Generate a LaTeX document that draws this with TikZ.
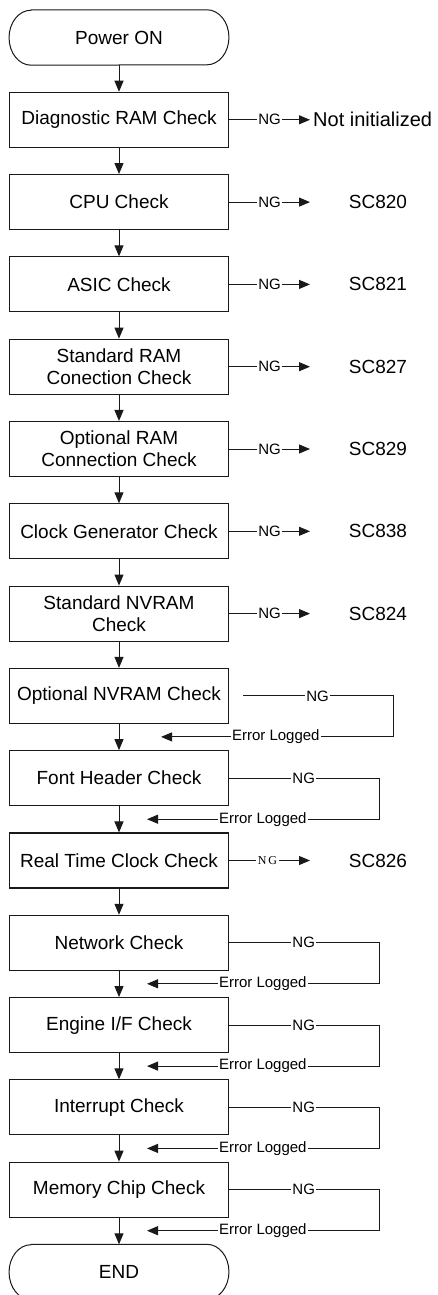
\documentclass[tikz,border=0pt]{standalone}
\usepackage{fontspec}
\setmainfont{Liberation Sans}
\newfontfamily\ngserif{Liberation Serif}
\usetikzlibrary{arrows.meta}
\begin{document}
\begin{tikzpicture}[x=1pt,y=-1pt,
  every node/.style={font=\fontsize{19}{22}\selectfont, text=black},
  box/.style={draw=black!90, line width=1.1pt, minimum width=219.5pt, minimum height=55pt, align=center, inner sep=0pt},
  term/.style={minimum width=219.5pt, minimum height=55pt, inner sep=0pt},
  lbl/.style={font=\fontsize{15}{15}\selectfont, inner sep=1pt},
  serlbl/.style={font=\ngserif\fontsize{12}{12}\selectfont, inner sep=1.5pt},
  ln/.style={draw=black!90, line width=1pt},
  arr/.style={ln, -{Triangle[length=11pt,width=9pt]}},
  termline/.style={draw=black!90, line width=1pt}
]
\useasboundingbox (0,0) rectangle (438,1295);

% main column
\node[term] (pwr)  at (119,37.5)  {Power ON};
\node[box]  (diag) at (119,119.8) {Diagnostic RAM Check};
\node[box]  (cpu)  at (119,202.1) {CPU Check};
\node[box]  (asic) at (119,284.4) {ASIC Check};
\node[box]  (sram) at (119,366.7) {Standard RAM\\Conection Check};
\node[box]  (oram) at (119,449.0) {Optional RAM\\Connection Check};
\node[box]  (clk)  at (119,531.3) {Clock Generator Check};
\node[box]  (snv)  at (119,613.6) {Standard NVRAM\\Check};
\node[box]  (onv)  at (119,695.9) {Optional NVRAM Check};
\node[box]  (font) at (119,778.2) {Font Header Check};
\node[box]  (rtc)  at (119,860.5) {Real Time Clock Check};
\node[box]  (net)  at (119,942.8) {Network Check};
\node[box]  (eng)  at (119,1025.1) {Engine I/F Check};
\node[box]  (intr) at (119,1107.4) {Interrupt Check};
\node[box]  (mem)  at (119,1189.7) {Memory Chip Check};
\node[term] (endn) at (119,1272.0) {END};

% terminal outlines
\foreach \t in {pwr,endn}{
  \draw[termline] ([xshift=22pt]\t.north west) -- ([xshift=-22pt]\t.north east)
    arc[start angle=90, end angle=-90, x radius=22pt, y radius=27.5pt]
    -- ([xshift=22pt]\t.south west)
    arc[start angle=270, end angle=90, x radius=22pt, y radius=27.5pt] -- cycle;
}

% vertical flow
\draw[arr] (pwr.south) -- (diag.north);
\draw[arr] (diag.south) -- (cpu.north);
\draw[arr] (cpu.south) -- (asic.north);
\draw[arr] (asic.south) -- (sram.north);
\draw[arr] (sram.south) -- (oram.north);
\draw[arr] (oram.south) -- (clk.north);
\draw[arr] (clk.south) -- (snv.north);
\draw[arr] (snv.south) -- (onv.north);
\draw[arr] (onv.south) -- (font.north);
\draw[arr] (font.south) -- (rtc.north);
\draw[arr] (rtc.south) -- (net.north);
\draw[arr] (net.south) -- (eng.north);
\draw[arr] (eng.south) -- (intr.north);
\draw[arr] (intr.south) -- (mem.north);
\draw[arr] (mem.south) -- (endn.north);

% straight NG exits
\node[anchor=west, inner sep=0pt, font=\fontsize{20}{22}\selectfont] (r1) at (313,119.8) {Not initialized};
\node (r2) at (378,202.1) {SC820};
\node (r3) at (378,284.4) {SC821};
\node (r4) at (378,366.7) {SC827};
\node (r5) at (378,449.0) {SC829};
\node (r6) at (378,531.3) {SC838};
\node (r7) at (378,613.6) {SC824};
\node (r10) at (378,860.5) {SC826};

\foreach \b/\i/\y in {diag/1/119.8, cpu/2/202.1, asic/3/284.4, sram/4/366.7, oram/5/449.0, clk/6/531.3, snv/7/613.6}{
  \node[lbl] (ng\i) at (269.5,\y) {NG};
  \coordinate (t\i) at (310,\y);
  \draw[ln] (\b.east) -- (ng\i.west);
  \draw[arr] (ng\i.east) -- (t\i);
}
\node[serlbl] (ng10) at (267.5,860.5) {N\,G};
\coordinate (t10) at (310,860.5);
\draw[ln] (rtc.east) -- (ng10.west);
\draw[arr] (ng10.east) -- (t10);

% loop exits (error logged)
\coordinate (s8) at (243,695.9);
\node[lbl] (ng8) at (317.5,695.9) {NG};
\node[lbl] (el8) at (275.8,736.9) {Error Logged};
\coordinate (c8) at (393,736.9);
\coordinate (a8) at (161,736.9);
\draw[ln] (s8) -- (ng8.west);
\draw[ln] (ng8.east) -| (c8) -- (el8.east);
\draw[arr] (el8.west) -- (a8);

\foreach \b/\i/\y in {font/9/778.2, net/11/942.8, eng/12/1025.1, intr/13/1107.4, mem/14/1189.7}{
  \node[lbl] (ng\i) at (303.7,\y) {NG};
  \node[lbl] (el\i) at (262.8,\y+41) {Error Logged};
  \coordinate (c\i) at (379,\y+41);
  \coordinate (a\i) at (147,\y+41);
  \draw[ln] (\b.east) -- (ng\i.west);
  \draw[ln] (ng\i.east) -| (c\i) -- (el\i.east);
  \draw[arr] (el\i.west) -- (a\i);
}
\end{tikzpicture}
\end{document}
